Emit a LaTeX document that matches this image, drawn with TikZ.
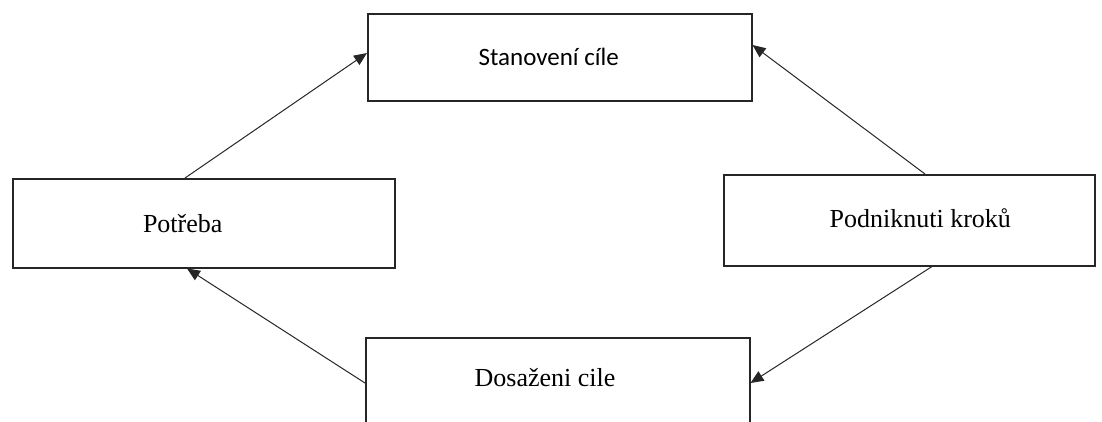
\documentclass[tikz,border=0pt]{standalone}
\usepackage{fontspec}
\setmainfont{Liberation Serif}
\newfontfamily\calib{Carlito}
\usetikzlibrary{arrows.meta}
\begin{document}
\begin{tikzpicture}[x=1pt,y=-1pt,
  boxnode/.style={draw=black!85,line width=1.5pt,rectangle,inner sep=0pt,anchor=north west},
  lbl/.style={font=\fontsize{26}{30}\selectfont},
  conn/.style={draw=black!85,line width=1pt,-{Triangle[length=13pt,width=11pt]}}]
\useasboundingbox (0,0) rectangle (1102,421);
\node[boxnode,minimum width=384pt,minimum height=87pt,
  label={[lbl,font=\calib\fontsize{25}{30}\selectfont,xshift=-11pt]center:Stanovení cíle}] (sta) at (367,13) {};
\node[boxnode,minimum width=382pt,minimum height=89pt,
  label={[lbl,xshift=-21pt]center:Potřeba}] (pot) at (12,178) {};
\node[boxnode,minimum width=371pt,minimum height=91pt,
  label={[lbl,xshift=11pt,yshift=2pt]center:Podniknuti kroků}] (pod) at (723,174) {};
\node[boxnode,minimum width=384pt,minimum height=170pt] (dos) at (365,337) {};
\node[lbl] (dost) at (545,378) {Dosaženi cile};
\draw[conn] ([xshift=173pt]pot.north west) -- ([yshift=-40pt]sta.north west);
\draw[conn] ([xshift=202pt]pod.north west) -- ([yshift=-32pt]sta.north east);
\draw[conn] ([xshift=209pt]pod.south west) -- ([yshift=-46pt]dos.north east);
\draw[conn] ([yshift=-46pt]dos.north west) -- ([xshift=175pt]pot.south west);
\end{tikzpicture}
\end{document}
